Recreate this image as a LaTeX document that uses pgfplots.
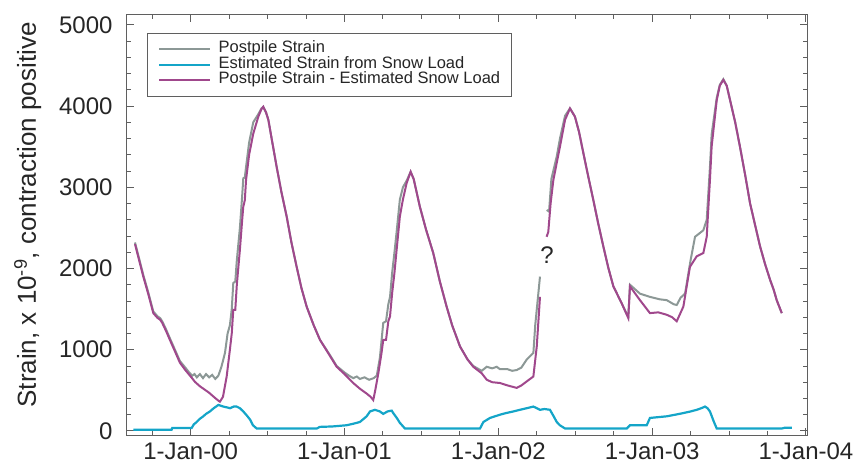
\documentclass[border=0pt]{standalone}
\usepackage{fontspec}
\setmainfont{Liberation Sans}
\usepackage{pgfplots}
\pgfplotsset{compat=1.18}
\definecolor{cgray}{RGB}{140,152,150}
\definecolor{cblue}{RGB}{20,165,200}
\definecolor{cpurp}{RGB}{160,72,140}
\definecolor{axgray}{RGB}{95,95,95}
\begin{document}
\begin{tikzpicture}
\path[use as bounding box] (-127pt,-34pt) rectangle (729pt,435pt);
\begin{axis}[
  scale only axis, width=680pt, height=420pt,
  xmin=-0.414, xmax=4.007, ymin=-50, ymax=5120,
  xtick={0,1,2,3,4},
  xticklabels={1-Jan-00,1-Jan-01,1-Jan-02,1-Jan-03,1-Jan-04},
  minor xtick={-0.25,0.25,0.5,0.75,1.25,1.5,1.75,2.25,2.5,2.75,3.25,3.5,3.75},
  ytick={0,1000,2000,3000,4000,5000},
  yticklabels={0,1000,2000,3000,4000,5000},
  minor ytick={200,400,600,800,1200,1400,1600,1800,2200,2400,2600,2800,3200,3400,3600,3800,4200,4400,4600,4800},
  axis line style={axgray, line width=1pt},
  tick style={axgray, line width=0.9pt},
  major tick length=7pt, minor tick length=4pt,
  tick label style={font=\fontsize{24}{24}\selectfont, text=black!85},
  xticklabel style={yshift=-4pt},
  yticklabel style={xshift=-11pt},
  ylabel={Strain, x 10\textsuperscript{-9}, contraction positive},
  ylabel style={at={(axis description cs:-0.146,0.524)}, anchor=center, font=\fontsize{26}{26}\selectfont, text=black!85},
  unbounded coords=jump,
  legend cell align=left,
  legend style={at={(axis description cs:0.0294,0.957)}, anchor=north west,
    draw=axgray, line width=0.8pt, font=\fontsize{16.5}{16.5}\selectfont, text=black!85,
    inner xsep=11pt, inner ysep=8pt, row sep=0pt,
    nodes={inner sep=0pt, text height=11.5pt, text depth=4pt}},
  legend image code/.code={\draw[#1] (0pt,0pt) -- (51pt,0pt); \path (58pt,0pt);},
]
\addplot[cgray, line width=2pt] coordinates {
(-0.362,2320) (-0.335,2120) (-0.308,1920) (-0.275,1700) (-0.243,1470) (-0.215,1410)
(-0.199,1390) (-0.185,1350) (-0.16,1250) (-0.135,1140) (-0.10,990) (-0.07,860)
(-0.035,780) (-0.01,720) (0.01,680) (0.025,700) (0.04,660) (0.06,700) (0.08,650)
(0.10,700) (0.12,660) (0.14,690) (0.16,640) (0.18,680) (0.20,790) (0.223,960)
(0.24,1200) (0.255,1300) (0.267,1500) (0.277,1820) (0.29,1840) (0.30,2100) (0.32,2500)
(0.335,2900) (0.342,3110) (0.352,3120) (0.36,3250) (0.38,3550) (0.407,3800) (0.44,3900)
(0.46,3970) (0.472,3990) (0.49,3920) (0.505,3830) (0.53,3560) (0.559,3250) (0.59,2940)
(0.624,2640) (0.655,2320) (0.689,2020) (0.72,1760) (0.754,1530) (0.80,1300) (0.841,1120)
(0.90,950) (0.949,800) (1.0,720) (1.03,680) (1.057,650) (1.08,670) (1.10,640) (1.13,660)
(1.16,630) (1.19,650) (1.21,680) (1.23,900) (1.252,1330) (1.27,1350) (1.285,1560)
(1.296,1650) (1.31,1950) (1.325,2200) (1.339,2450) (1.36,2850) (1.38,3000) (1.404,3080)
(1.43,3190) (1.45,3100) (1.49,2760) (1.53,2480) (1.577,2190) (1.62,1840) (1.664,1530)
(1.70,1300) (1.751,1040) (1.80,880) (1.837,800) (1.892,740) (1.925,790) (1.96,770)
(1.99,790) (2.011,760) (2.06,760) (2.09,740) (2.12,750) (2.15,780) (2.185,880)
(2.228,960) (2.24,1300) (2.271,1900) (2.29,nan) (2.315,2720) (2.33,2700) (2.345,3100)
(2.38,3380) (2.401,3600) (2.434,3880) (2.466,3970) (2.498,3870) (2.525,3680) (2.553,3420)
(2.585,3130) (2.618,2840) (2.65,2550) (2.683,2270) (2.715,2010) (2.748,1780) (2.80,1580)
(2.845,1400) (2.856,1800) (2.921,1690) (2.986,1650) (3.05,1620) (3.095,1610) (3.14,1560)
(3.16,1550) (3.185,1640) (3.214,1690) (3.25,2100) (3.279,2390) (3.333,2470) (3.355,2600)
(3.376,3250) (3.387,3650) (3.42,4100) (3.44,4260) (3.463,4330) (3.485,4250) (3.507,4070)
(3.54,3800) (3.571,3500) (3.605,3150) (3.637,2800) (3.67,2530) (3.702,2270) (3.735,2050)
(3.767,1860) (3.79,1740) (3.81,1610) (3.843,1450)
};
\addlegendentry{Postpile Strain}
\addplot[cblue, line width=2.2pt] coordinates {
(-0.373,15) (-0.124,15) (-0.12,35) (0.006,35) (0.02,80) (0.039,110) (0.06,150)
(0.082,180) (0.10,210) (0.125,240) (0.15,280) (0.18,320) (0.212,300) (0.235,290)
(0.256,280) (0.28,300) (0.299,300) (0.32,280) (0.342,240) (0.365,190) (0.386,140)
(0.405,70) (0.429,30) (0.82,30) (0.84,50) (0.92,55) (1.014,70) (1.06,90) (1.10,110)
(1.144,180) (1.166,240) (1.198,260) (1.23,240) (1.252,210) (1.28,240) (1.307,250)
(1.317,220) (1.34,160) (1.36,100) (1.393,30) (1.881,30) (1.903,110) (1.946,160)
(2.011,200) (2.05,220) (2.098,240) (2.14,260) (2.185,280) (2.228,300) (2.25,280)
(2.271,260) (2.3,270) (2.336,260) (2.36,180) (2.38,110) (2.40,70) (2.434,30)
(2.835,30) (2.856,70) (2.965,70) (2.986,160) (3.04,170) (3.095,180) (3.15,200)
(3.203,220) (3.25,240) (3.29,260) (3.32,280) (3.344,300) (3.36,280) (3.376,240)
(3.40,120) (3.42,30) (3.843,30) (3.864,40) (3.908,40)
};
\addlegendentry{Estimated Strain from Snow Load}
\addplot[cpurp, line width=2pt] coordinates {
(-0.362,2300) (-0.335,2100) (-0.308,1900) (-0.275,1680) (-0.243,1450) (-0.215,1390)
(-0.199,1370) (-0.185,1330) (-0.16,1230) (-0.135,1120) (-0.10,970) (-0.07,840)
(-0.035,750) (0.0,670) (0.03,600) (0.06,550) (0.09,510) (0.12,470) (0.15,420)
(0.175,380) (0.19,360) (0.21,420) (0.234,670) (0.255,1000) (0.267,1200) (0.277,1490)
(0.29,1490) (0.30,1800) (0.32,2230) (0.335,2600) (0.342,2760) (0.352,2840) (0.36,3090)
(0.38,3400) (0.407,3660) (0.44,3870) (0.46,3960) (0.472,3990) (0.49,3920) (0.505,3830)
(0.53,3560) (0.559,3250) (0.59,2940) (0.624,2640) (0.655,2320) (0.689,2020) (0.72,1760)
(0.754,1530) (0.80,1300) (0.841,1120) (0.90,940) (0.949,790) (1.0,700) (1.057,590)
(1.10,520) (1.144,460) (1.17,420) (1.187,380) (1.20,500) (1.22,710) (1.24,950)
(1.252,1120) (1.27,1120) (1.285,1350) (1.296,1410) (1.31,1700) (1.325,1950) (1.339,2230)
(1.36,2640) (1.38,2850) (1.404,3050) (1.43,3190) (1.45,3100) (1.49,2760) (1.53,2480)
(1.577,2190) (1.62,1840) (1.664,1530) (1.70,1300) (1.751,1040) (1.80,880) (1.837,790)
(1.892,710) (1.925,630) (1.96,600) (2.011,590) (2.06,560) (2.12,530) (2.15,560)
(2.185,610) (2.228,670) (2.25,1040) (2.271,1650) (2.29,nan) (2.314,2390) (2.325,2450)
(2.34,2800) (2.358,3090) (2.38,3300) (2.401,3500) (2.434,3830) (2.466,3970) (2.498,3870)
(2.525,3680) (2.553,3420) (2.585,3130) (2.618,2840) (2.65,2550) (2.683,2270) (2.715,2010)
(2.748,1780) (2.80,1580) (2.845,1390) (2.856,1780) (2.921,1610) (2.986,1450) (3.04,1460)
(3.095,1430) (3.13,1400) (3.16,1350) (3.203,1530) (3.246,2020) (3.29,2150) (3.333,2190)
(3.355,2390) (3.376,3090) (3.387,3500) (3.42,4070) (3.44,4250) (3.463,4320) (3.485,4250)
(3.507,4070) (3.54,3800) (3.571,3500) (3.605,3150) (3.637,2800) (3.67,2530) (3.702,2270)
(3.735,2050) (3.767,1860) (3.79,1740) (3.81,1610) (3.843,1450)
};
\addlegendentry{Postpile Strain - Estimated Snow Load}
\node[font=\fontsize{24}{24}\selectfont, text=black!85] at (axis cs:2.317,2170) {?};
\end{axis}
\end{tikzpicture}
\end{document}
